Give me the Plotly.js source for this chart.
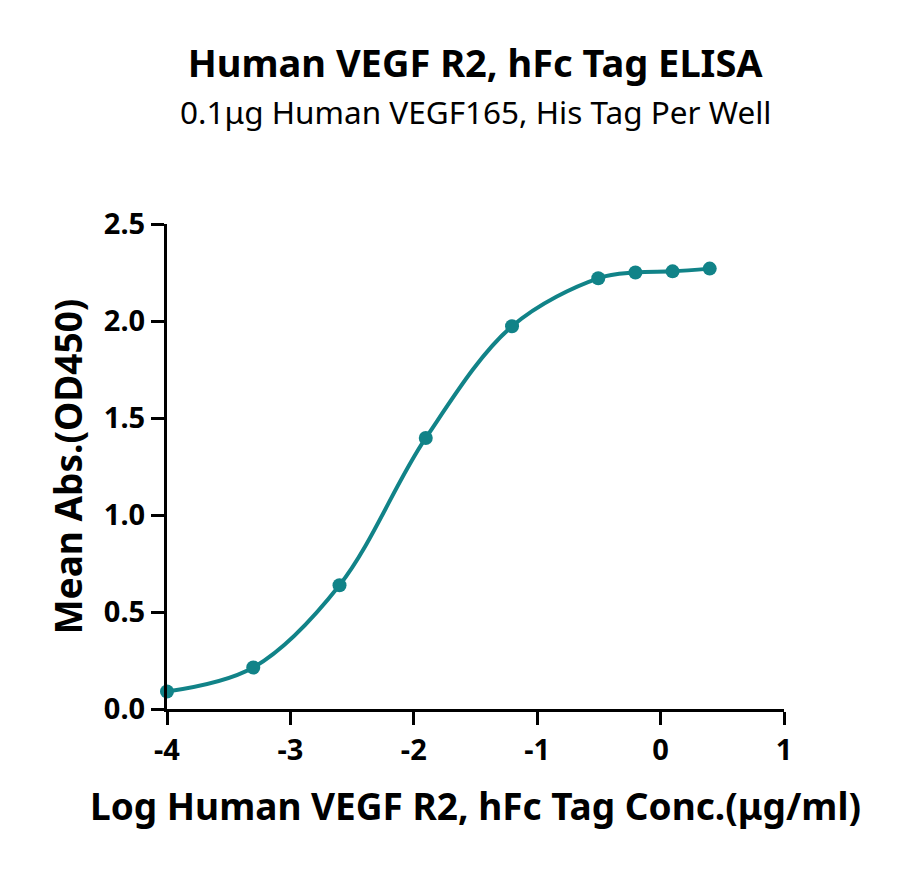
<!DOCTYPE html>
<html>
<head>
<meta charset="utf-8">
<script src="https://cdn.plot.ly/plotly-3.0.1.min.js"></script>
<style>
  html, body { margin: 0; padding: 0; background: #fff; }
  #chart { width: 900px; height: 870px; }
</style>
</head>
<body>
<div id="chart"></div>
<script>
// log10 concentration (ug/ml) and mean OD450
var logConc = [-4.0, -3.301, -2.602, -1.903, -1.204, -0.505, -0.204, 0.097, 0.398];
var meanAbs = [0.090, 0.214, 0.638, 1.397, 1.973, 2.220, 2.250, 2.256, 2.270];

var xTicks = [-4, -3, -2, -1, 0, 1];
var yTicks = [0, 0.5, 1.0, 1.5, 2.0, 2.5];
var yTickText = ['0.0', '0.5', '1.0', '1.5', '2.0', '2.5'];

var teal = 'rgb(17,131,136)';
var fontFam = '"Noto Sans", "Open Sans", sans-serif';

var curve = {
  x: logConc,
  y: meanAbs,
  type: 'scatter',
  mode: 'lines+markers',
  line: { color: teal, width: 4, shape: 'spline', smoothing: 1.0 },
  marker: { color: teal, size: 14 },
  cliponaxis: false,
  hoverinfo: 'x+y'
};

var layout = {
  width: 900,
  height: 870,
  margin: { l: 167, r: 116, t: 224, b: 161 },
  paper_bgcolor: '#fff',
  plot_bgcolor: '#fff',
  showlegend: false,
  font: { family: fontFam, color: '#000' },
  title: {
    text: '<b>Human VEGF R2, hFc Tag ELISA</b>',
    font: { size: 38, family: fontFam },
    x: 0.528, xanchor: 'center',
    y: 1 - 64 / 870, yanchor: 'middle'
  },
  annotations: [{
    text: '0.1μg Human VEGF165, His Tag Per Well',
    xref: 'paper', yref: 'paper',
    x: 0.5, y: 1.0, xanchor: 'center', yanchor: 'middle',
    yshift: 224 - 111,
    showarrow: false,
    font: { size: 31.5, family: fontFam }
  }],
  xaxis: {
    range: [-4, 1],
    tickvals: xTicks,
    ticktext: xTicks.map(String),
    showgrid: false, zeroline: false,
    showline: true, linecolor: '#000', linewidth: 3,
    ticks: 'outside', ticklen: 13, tickwidth: 3, tickcolor: '#000',
    tickfont: { size: 29, family: fontFam, weight: 'bold' },
    title: { text: '<b>Log Human VEGF R2, hFc Tag Conc.(μg/ml)</b>', font: { size: 37, family: fontFam }, standoff: 28 }
  },
  yaxis: {
    range: [0, 2.5],
    tickvals: yTicks,
    ticktext: yTickText,
    showgrid: false, zeroline: false,
    showline: true, linecolor: '#000', linewidth: 3,
    ticks: 'outside', ticklen: 13, tickwidth: 3, tickcolor: '#000',
    tickfont: { size: 29, family: fontFam, weight: 'bold' },
    title: { text: '<b>Mean Abs.(OD450)</b>', font: { size: 37, family: fontFam }, standoff: 10 }
  }
};

Plotly.newPlot('chart', [curve], layout, { displayModeBar: false, staticPlot: true });
</script>
</body>
</html>
